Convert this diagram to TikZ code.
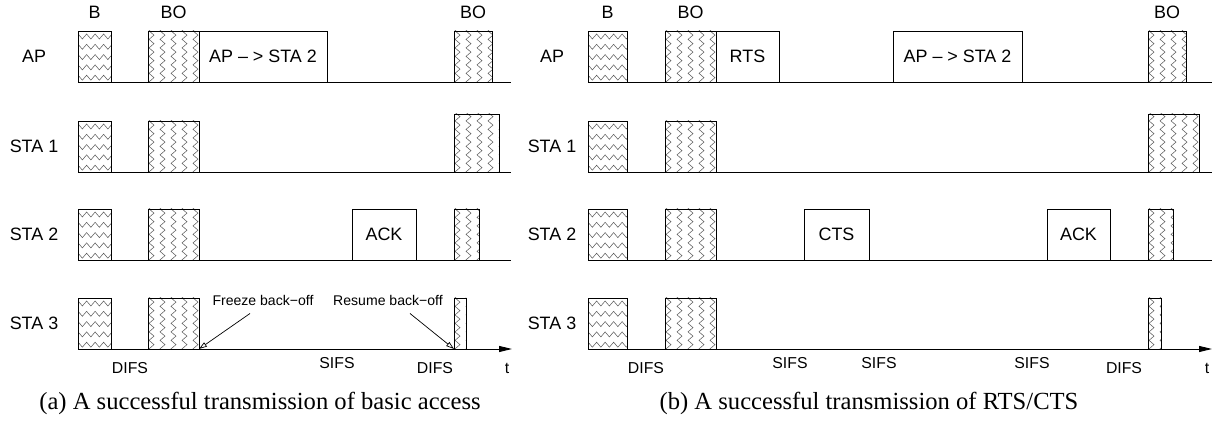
\documentclass[tikz,border=0pt]{standalone}
\usepackage{fontspec}
\setmainfont{Liberation Serif}
\setsansfont{Liberation Sans}
\usetikzlibrary{arrows.meta,calc,decorations.pathmorphing}

\begin{document}
\begin{tikzpicture}[
    x=0.02cm, y=0.02cm, >=Latex, line width=0.55pt,
    font=\sffamily\fontsize{10.2}{12}\selectfont,
    zz/.style={draw=black!65, line width=0.3pt, decorate,
      decoration={zigzag, segment length=0.17cm, amplitude=0.05cm}},
    blk/.style={draw, anchor=south west, inner sep=0pt, outer sep=0pt,
      minimum height=1.02cm, minimum width=#1*0.02cm},
    tall/.style={minimum height=1.16cm},
    bcn/.style={blk=#1, path picture={
      \foreach \k in {0,...,4}
        \draw[zz] ($(path picture bounding box.north west)+(-2,{-5.5-\k*10.3})$) -- ++(90,0);}},
    bof/.style={blk=#1, path picture={
      \foreach \k in {0,...,5}
        \draw[zz] ($(path picture bounding box.south west)+({3.5+\k*11},-2)$) -- ++(0,80);}},
    pkt/.style={blk=#1},
    ifs/.style={font=\sffamily\fontsize{9}{11}\selectfont},
    note/.style={font=\sffamily\fontsize{8}{9.6}\selectfont},
    axis/.style={-{Triangle[length=0.26cm,width=0.12cm]}},
    call/.style={-{Triangle[open,length=0.16cm,width=0.1cm]}, line width=0.4pt},
    capt/.style={font=\rmfamily\fontsize{14}{16}\selectfont}
]
\useasboundingbox (0,0) rectangle (1214,421);

% (a) basic access
\foreach \r/\yb/\lbl in {ap/339/AP, sa/249/STA 1, sb/161/STA 2, sc/72/STA 3}{
  \node (\r La) at (34,{\yb+25.5}) {\lbl};
  \node[bcn=33] (\r Ba) at (78,\yb) {};
  \node[bof=51] (\r Oa) at (148,\yb) {};
}
\node[pkt=128] (apDa) at (199,339) {AP – > STA 2};
\node[bof=38] (apOb) at (454,339) {};
\node[bof=45, tall] (saOb) at (454,249) {};
\node[pkt=64] (sbKa) at (352,161) {ACK};
\node[bof=25] (sbOb) at (454,161) {};
\node[bof=12] (scOb) at (454,72) {};
\draw (apBa.south west) -- (511,339);
\draw (saBa.south west) -- (511,249);
\draw (sbBa.south west) -- (511,161);
\draw[axis] (scBa.south west) -- (512,72);

\node (tBa) at (apBa.north |- 0,409) {B};
\node (tOa) at (apOa.north |- 0,409) {BO};
\node (tOb) at (apOb.north |- 0,409) {BO};

\node[note] (frz) at (263,121) {Freeze back−off};
\node[note] (rsm) at (388,121) {Resume back−off};
\draw[call] ($(frz.south)+(-13,-2)$) -- (scOa.south east);
\draw[call] ($(rsm.south)+(22,-2)$) -- (scOb.south west);

\node[ifs] (dfa) at (130,53) {DIFS};
\node[ifs] (sfa) at (337,58) {SIFS};
\node[ifs] (dfb) at (435,53) {DIFS};
\node[ifs] (tma) at (507,53) {t};
\node[capt] (capa) at (260,18) {(a) A successful transmission of basic access};

% (b) RTS/CTS
\foreach \r/\yb/\lbl in {ap/339/AP, sa/249/STA 1, sb/161/STA 2, sc/72/STA 3}{
  \node (\r Lb) at (552,{\yb+25.5}) {\lbl};
  \node[bcn=39] (\r Bb) at (588,\yb) {};
  \node[bof=51] (\r Oc) at (665,\yb) {};
}
\node[pkt=63] (apRb) at (716,339) {RTS};
\node[pkt=129] (apDb) at (893,339) {AP – > STA 2};
\node[bof=38] (apOd) at (1148,339) {};
\node[bof=51, tall] (saOd) at (1148,249) {};
\node[pkt=65] (sbCb) at (804,161) {CTS};
\node[pkt=63] (sbKb) at (1047,161) {ACK};
\node[bof=25] (sbOd) at (1148,161) {};
\node[bof=13] (scOd) at (1148,72) {};
\draw (apBb.south west) -- (1212,339);
\draw (saBb.south west) -- (1212,249);
\draw (sbBb.south west) -- (1212,161);
\draw[axis] (scBb.south west) -- (1212,72);

\node (tBb) at (apBb.north |- 0,409) {B};
\node (tOc) at (apOc.north |- 0,409) {BO};
\node (tOd) at (apOd.north |- 0,409) {BO};

\node[ifs] (dfc) at (646,53) {DIFS};
\node[ifs] (sfb) at (790,58) {SIFS};
\node[ifs] (sfc) at (879,58) {SIFS};
\node[ifs] (sfd) at (1032,58) {SIFS};
\node[ifs] (dfd) at (1124,53) {DIFS};
\node[ifs] (tmb) at (1207,53) {t};
\node[capt] (capb) at (869,18) {(b) A successful transmission of RTS/CTS};
\end{tikzpicture}
\end{document}
